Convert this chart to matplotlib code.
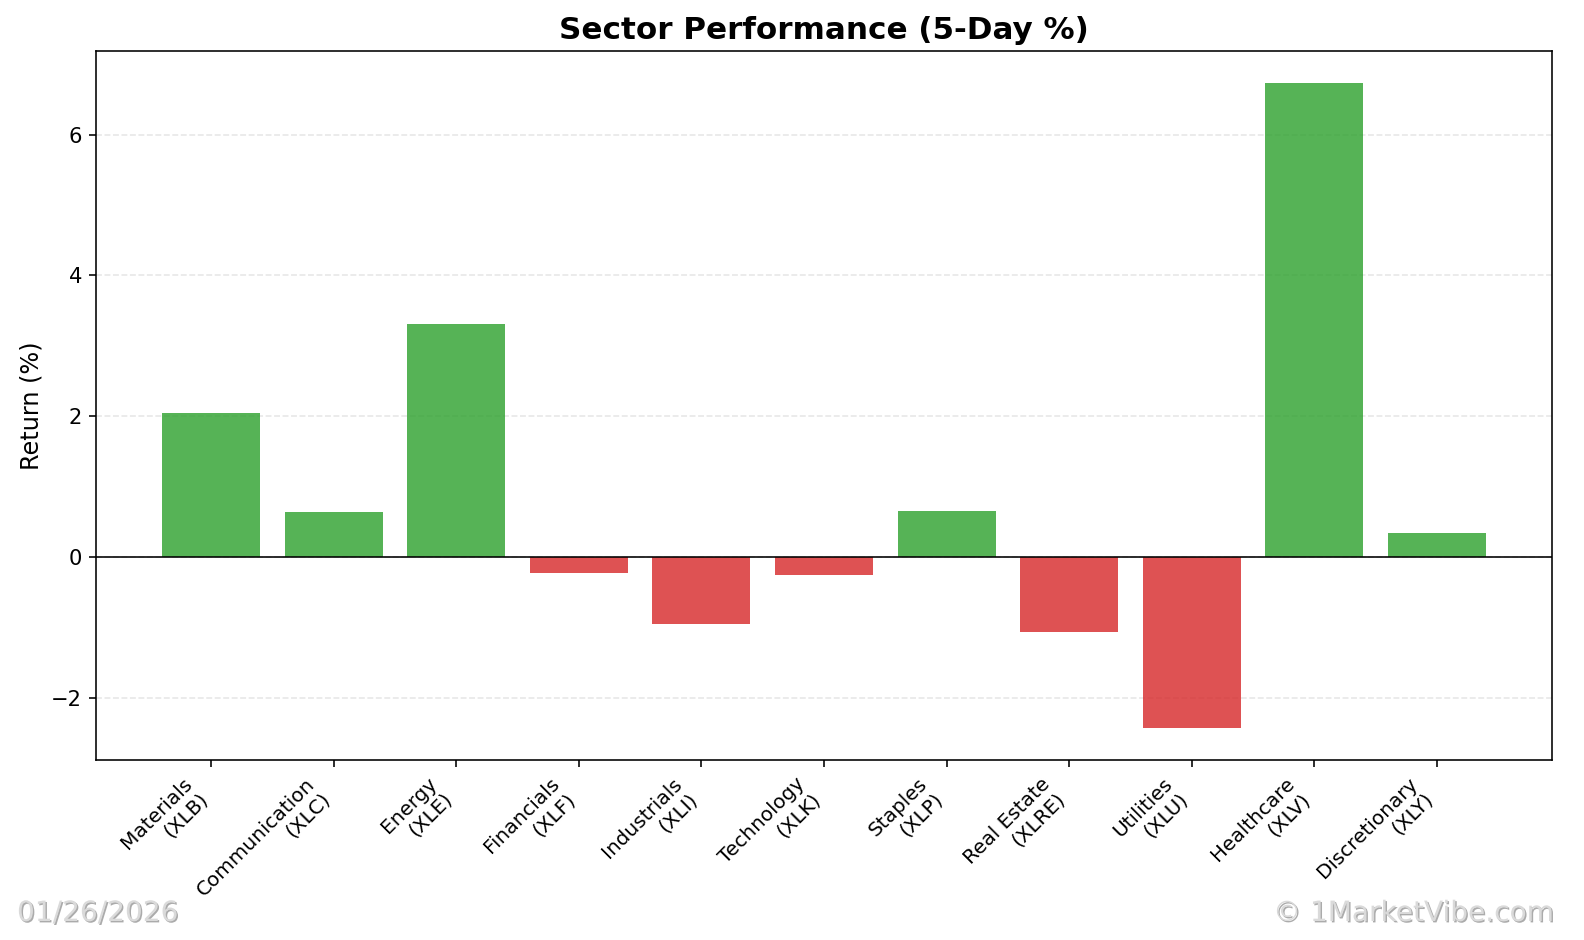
import matplotlib
matplotlib.use('Agg')
import matplotlib.pyplot as plt
import matplotlib.patheffects as pe

# 섹터별 5일 수익률 데이터
sectors = ['Materials', 'Communication', 'Energy', 'Financials', 'Industrials',
           'Technology', 'Staples', 'Real Estate', 'Utilities', 'Healthcare',
           'Discretionary']
tickers = ['XLB', 'XLC', 'XLE', 'XLF', 'XLI', 'XLK', 'XLP', 'XLRE', 'XLU', 'XLV', 'XLY']
returns = [2.05, 0.64, 3.31, -0.23, -0.95, -0.26, 0.65, -1.07, -2.43, 6.73, 0.34]

date_text = '01/26/2026'
credit_text = '\u00a9 1MarketVibe.com'


def draw_chart(filename='out.png'):
    fig, ax = plt.subplots(figsize=(11, 940 / 144), dpi=144)
    fig.subplots_adjust(left=96 / 1584, right=1552 / 1584,
                        top=1 - 51 / 940, bottom=1 - 760 / 940)

    colors = ['#2ca02c' if r >= 0 else '#d62728' for r in returns]
    labels = [f'{s}\n({t})' for s, t in zip(sectors, tickers)]
    x = list(range(len(returns)))

    ax.bar(x, returns, color=colors, alpha=0.8)
    ax.axhline(0, color='black', linewidth=0.8)
    ax.grid(axis='y', linestyle='--', alpha=0.3)
    ax.set_axisbelow(True)

    ax.set_xticks(x)
    ax.set_xticklabels(labels, rotation=45, ha='right', fontsize=10)
    ax.tick_params(axis='y', labelsize=10.5)
    ax.set_ylabel('Return (%)', fontsize=12)
    ax.set_title('Sector Performance (5-Day %)', fontsize=15.5, fontweight='bold')

    # 워터마크
    shadow = [pe.withSimplePatchShadow(offset=(0.7, -0.7), shadow_rgbFace='#888888', alpha=0.7)]
    fig.text(17 / 1584, 1 - 921 / 940, date_text, fontsize=14, color='#dadada',
             ha='left', va='baseline', path_effects=shadow)
    fig.text(1553 / 1584, 1 - 921 / 940, credit_text, fontsize=14, color='#dadada',
             ha='right', va='baseline', path_effects=shadow)

    fig.savefig(filename, dpi=144)
    plt.close(fig)


if __name__ == '__main__':
    draw_chart()
